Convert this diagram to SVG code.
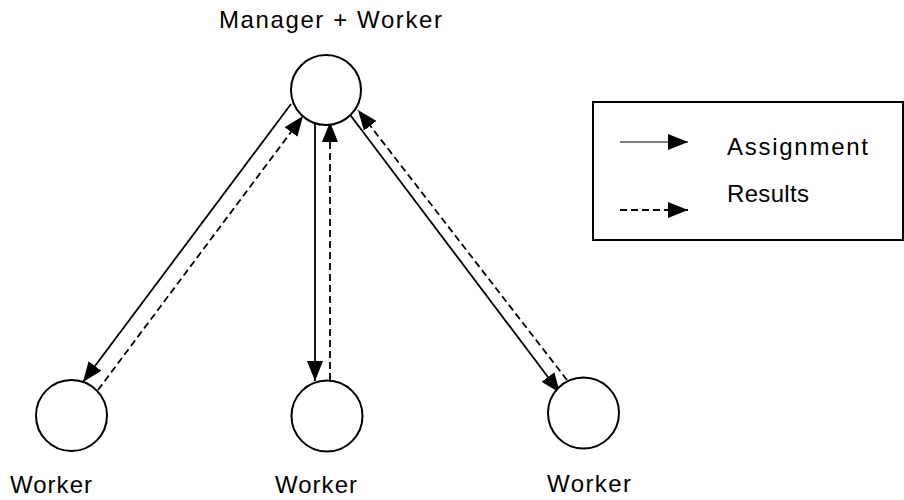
<svg xmlns="http://www.w3.org/2000/svg" width="904" height="500" viewBox="0 0 904 500">
<style>
.node{fill:#fff;stroke:#000;stroke-width:2}
.lbl{font-family:"Liberation Sans",Arial,sans-serif;font-size:24px;fill:#000}
.solid{stroke:#000;stroke-width:1.8;fill:none}
.dash{stroke:#000;stroke-width:1.8;fill:none;stroke-dasharray:7 4}
</style>
<defs>
<marker id="ah" markerUnits="userSpaceOnUse" markerWidth="22" markerHeight="18" refX="20" refY="8" orient="auto">
<path d="M0,0 L20,8 L0,16 z" fill="#000"/>
</marker>
</defs>
<rect width="904" height="500" fill="#fff"/>
<g id="connectors">
<line class="solid" x1="291" y1="104" x2="83" y2="382" marker-end="url(#ah)"/>
<line class="dash" x1="98" y1="390" x2="303" y2="116" marker-end="url(#ah)"/>
<line class="solid" x1="315" y1="124" x2="315" y2="381" marker-end="url(#ah)"/>
<line class="dash" x1="330" y1="380" x2="330" y2="122" marker-end="url(#ah)"/>
<line class="solid" x1="348" y1="112" x2="560" y2="393" marker-end="url(#ah)"/>
<line class="dash" x1="567" y1="380" x2="358" y2="110" marker-end="url(#ah)"/>
</g>
<g id="manager">
<circle class="node" cx="326" cy="90" r="35"/>
<text class="lbl" x="219" y="28" textLength="223" lengthAdjust="spacing">Manager + Worker</text>
</g>
<g id="worker1">
<circle class="node" cx="71.5" cy="415.5" r="35.5"/>
<text class="lbl" x="10" y="493" textLength="82" lengthAdjust="spacing">Worker</text>
</g>
<g id="worker2">
<circle class="node" cx="327" cy="416" r="35.5"/>
<text class="lbl" x="275" y="493" textLength="82" lengthAdjust="spacing">Worker</text>
</g>
<g id="worker3">
<circle class="node" cx="583.5" cy="413" r="35.5"/>
<text class="lbl" x="547" y="492" textLength="84" lengthAdjust="spacing">Worker</text>
</g>
<g id="legend">
<rect x="593" y="102" width="310" height="138" fill="#fff" stroke="#000" stroke-width="2"/>
<line x1="620" y1="142" x2="688" y2="142" stroke="#000" stroke-width="1.2" marker-end="url(#ah)"/>
<line x1="620" y1="210" x2="688" y2="210" stroke="#000" stroke-width="1.8" stroke-dasharray="7 4" marker-end="url(#ah)"/>
<text class="lbl" x="727" y="155" textLength="141" lengthAdjust="spacing">Assignment</text>
<text class="lbl" x="727" y="202" textLength="82" lengthAdjust="spacing">Results</text>
</g>
</svg>
